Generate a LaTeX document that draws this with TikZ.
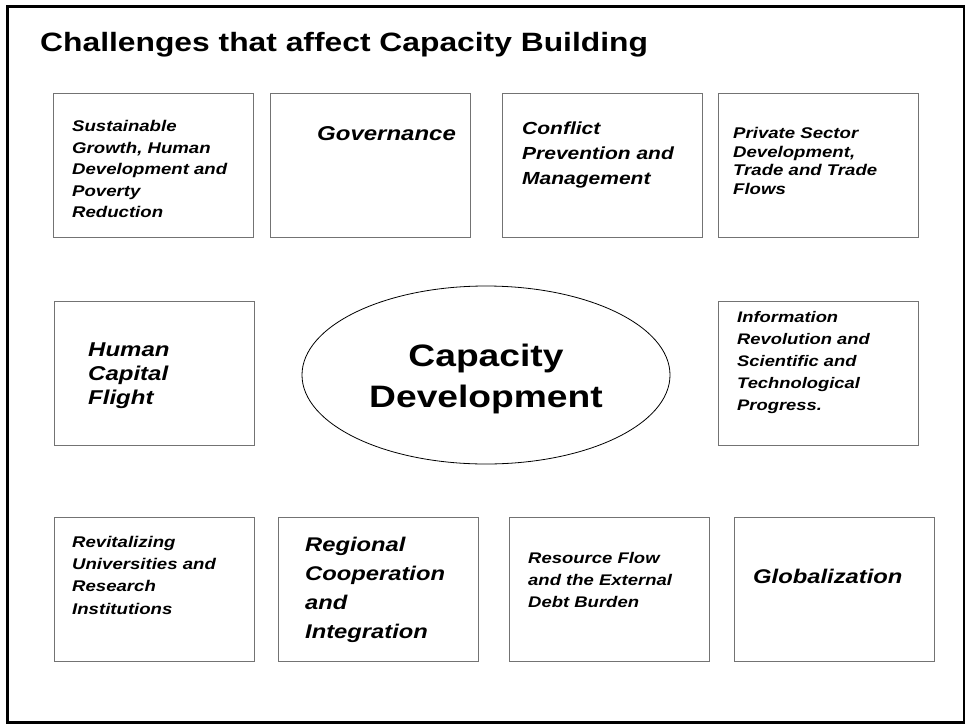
\documentclass[tikz,border=0pt]{standalone}
\usepackage{fontspec}
\setmainfont[FakeStretch=1.2]{Liberation Sans}
\usetikzlibrary{shapes.geometric}
\newcommand{\fsz}[2]{\fontsize{#1}{#2}\selectfont}

\begin{document}
\begin{tikzpicture}
  [x=1pt,y=-1pt,
   challenge/.style={rectangle,draw=black!55,line width=0.9pt,
                     minimum width=200pt,minimum height=144pt,inner sep=0},
   core/.style={ellipse,draw=black,line width=0.8pt,
                minimum width=368pt,minimum height=178pt,inner sep=0},
   coretxt/.style={inner sep=0,align=center,font=\bfseries\fsz{31}{41}},
   lbl/.style={anchor=north west,inner sep=0,align=left,
               font=\bfseries\itshape\fsz{15.5}{21.5}},
   biglbl/.style={anchor=north west,inner sep=0,align=left,
                  font=\bfseries\itshape\fsz{20}{24}}]
  \useasboundingbox (0,0) rectangle (968,725);
  \draw[line width=2.5pt] (7.3,6.7) rectangle (964,722.3);
  \node[anchor=base west,inner sep=0,font=\bfseries\fsz{26.5}{30}] (title) at (40,52)
       {Challenges that affect Capacity Building};
% top row
  \node[challenge] (growth) at (153.5,165) {};
  \node[challenge] (gov) at (370,165) {};
  \node[challenge] (conflict) at (602.5,165) {};
  \node[challenge] (private) at (818,165) {};
  \node[lbl,font=\bfseries\itshape\fsz{15.5}{21.6}] (growthtxt) at (72,120)
       {Sustainable\\Growth, Human\\Development and\\Poverty\\Reduction};
  \node[biglbl] (govtxt) at (317,126.5) {Governance};
  \node[lbl,font=\bfseries\itshape\fsz{17.5}{25}] (conflicttxt) at (522,121.5)
       {Conflict\\Prevention and\\Management};
  \node[lbl,font=\bfseries\itshape\fsz{15.5}{18.5}] (privatetxt) at (733,127.5)
       {Private Sector\\Development,\\Trade and Trade\\Flows};
% middle row
  \node[challenge] (flight) at (154,373) {};
  \node[core] (capdev) at (486,375) {};
  \node[coretxt] (capdevtxt) at (486,378.5) {Capacity\\Development};
  \node[challenge] (info) at (818,373.5) {};
  \node[biglbl] (flighttxt) at (88,343) {Human\\Capital\\Flight};
  \node[lbl,font=\bfseries\itshape\fsz{15.3}{22}] (infotxt) at (737,311)
       {Information\\Revolution and\\Scientific and\\Technological\\Progress.};
% bottom row
  \node[challenge] (univ) at (154,589) {};
  \node[challenge] (region) at (378,589) {};
  \node[challenge] (debt) at (609.5,589) {};
  \node[challenge] (glob) at (834,589) {};
  \node[lbl,font=\bfseries\itshape\fsz{15.5}{22.2}] (univtxt) at (72,536)
       {Revitalizing\\Universities and\\Research\\Institutions};
  \node[biglbl,font=\bfseries\itshape\fsz{19.8}{29}] (regiontxt) at (305,537)
       {Regional\\Cooperation\\and\\Integration};
  \node[lbl,font=\bfseries\itshape\fsz{15.4}{21.7}] (debttxt) at (528,552.5)
       {Resource Flow\\and the External\\Debt Burden};
  \node[biglbl,font=\bfseries\itshape\fsz{19.8}{24}] (globtxt) at (753,568.5) {Globalization};
\end{tikzpicture}
\end{document}
